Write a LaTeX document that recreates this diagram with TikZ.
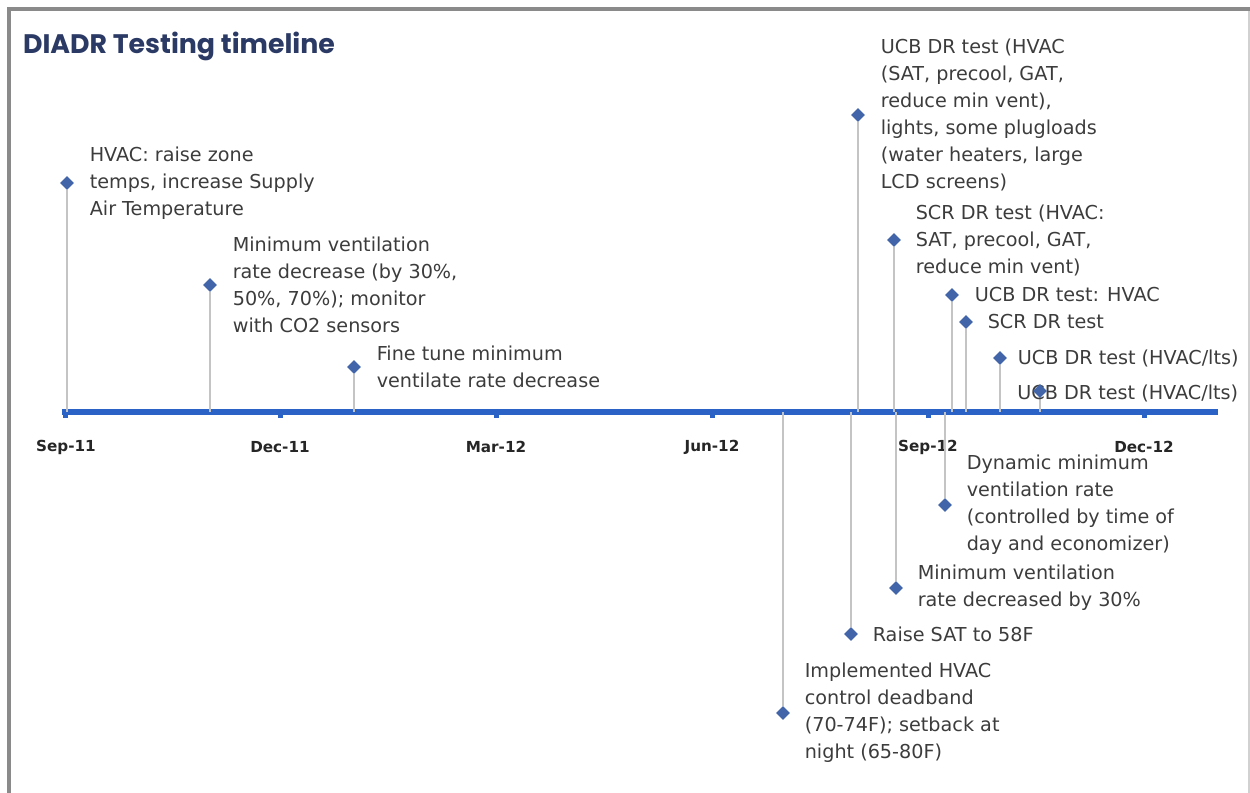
\documentclass[tikz,border=0pt]{standalone}
\usepackage{fontspec}
\setmainfont{DejaVu Sans}
\newfontfamily\titlefont{Poppins}
\usetikzlibrary{positioning,shapes.geometric}

\definecolor{axisblue}{HTML}{2A62C6}
\definecolor{markblue}{HTML}{4264A8}
\definecolor{stemgray}{HTML}{C4C4C4}
\definecolor{framegray}{HTML}{8A8A8A}
\definecolor{titleblue}{HTML}{2B3A64}
\definecolor{textgray}{HTML}{3C3C3C}

\tikzset{
  event/.style={diamond, fill=markblue, inner sep=0pt, minimum size=7pt},
  stem/.style={stemgray, line width=1pt},
  note/.style={align=left, inner sep=0pt, text=textgray,
    font=\fontsize{9.6}{13.5}\selectfont},
  tick/.style={rectangle, fill=axisblue, inner sep=0pt, minimum width=2.5pt, minimum height=4pt},
  month/.style={font=\bfseries\fontsize{7.6}{9}\selectfont, text=black!85},
}

\begin{document}
\begin{tikzpicture}[x=0.5pt, y=-0.5pt]
    \useasboundingbox (0,0) rectangle (1250,793);
    % frame
    \draw[framegray, line width=2pt] (9,793) -- (9,9) -- (1250,9);
    \draw[black!18, line width=0.8pt] (1249,11) -- (1249,793);
    \node[anchor=west, text=titleblue, font=\titlefont\bfseries\fontsize{13.4}{16}\selectfont] (title) at (16,46) {DIADR Testing timeline};

    % axis, ticks and months
    \coordinate (a0) at (62,412);
    \coordinate (a1) at (1218,412);
    \node[tick] (k1) at (65,414) {};
    \node[tick] (k2) at (280,414) {};
    \node[tick] (k3) at (496,414) {};
    \node[tick] (k4) at (712,414) {};
    \node[tick] (k5) at (928,414) {};
    \node[tick] (k6) at (1144,414) {};
    \draw[axisblue, line width=2.6pt] (a0) -- (a1);
    \node[month] (m1) at (66,447) {Sep-11};
    \node[month] (m2) at (280,447) {Dec-11};
    \node[month] (m3) at (496,447) {Mar-12};
    \node[month] (m4) at (712,447) {Jun-12};
    \node[month] (m5) at (928,447) {Sep-12};
    \node[month] (m6) at (1144,447) {Dec-12};

    % events above the axis
    \node[event] (e1) at (67,183) {};
    \node[event] (e2) at (210,285) {};
    \node[event] (e3) at (354,367) {};
    \node[event] (e4) at (858,115) {};
    \node[event] (e5) at (894,240) {};
    \node[event] (e6) at (952,295) {};
    \node[event] (e7) at (966,322) {};
    \node[event] (e8) at (1000,358) {};
    % events below the axis
    \node[event] (e10) at (783,713) {};
    \node[event] (e11) at (851,634) {};
    \node[event] (e12) at (896,588) {};
    \node[event] (e13) at (945,505) {};

    \foreach \e in {e1,e2,e3,e4,e5,e6,e7,e8,e10,e11,e12,e13}
        \draw[stem] (\e) -- (\e |- a0);
    \draw[stem] (1040,391) -- (1040,412);

    \node[note, right=7.5pt of e1] (t1) {HVAC: raise zone\\temps, increase Supply\\Air Temperature};
    \node[note, right=7.5pt of e2] (t2) {Minimum ventilation\\rate decrease (by 30\%,\\50\%, 70\%); monitor\\with CO2 sensors};
    \node[note, right=7.5pt of e3] (t3) {Fine tune minimum\\ventilate rate decrease};
    \node[note, right=7.5pt of e4] (t4) {UCB DR test (HVAC\\(SAT, precool, GAT,\\reduce min vent),\\lights, some plugloads\\(water heaters, large\\LCD screens)};
    \node[note, right=7pt of e5] (t5) {SCR DR test (HVAC:\\SAT, precool, GAT,\\reduce min vent)};
    \node[note, right=7.5pt of e6] (t6) {UCB DR test: HVAC};
    \node[note, right=7pt of e7] (t7) {SCR DR test};
    \node[note, right=5pt of e8] (t8) {UCB DR test (HVAC/lts)};
    \node[note, anchor=west] (t9) at (1017,393) {UCB DR test (HVAC/lts)};
    \node[event] (e9) at (1040,391) {};
    \node[note, right=7pt of e10] (t10) {Implemented HVAC\\control deadband\\(70-74F); setback at\\night (65-80F)};
    \node[note, right=7pt of e11] (t11) {Raise SAT to 58F};
    \node[note, right=7pt of e12] (t12) {Minimum ventilation\\rate decreased by 30\%};
    \node[note, right=7pt of e13] (t13) {Dynamic minimum\\ventilation rate\\(controlled by time of\\day and economizer)};
\end{tikzpicture}
\end{document}
